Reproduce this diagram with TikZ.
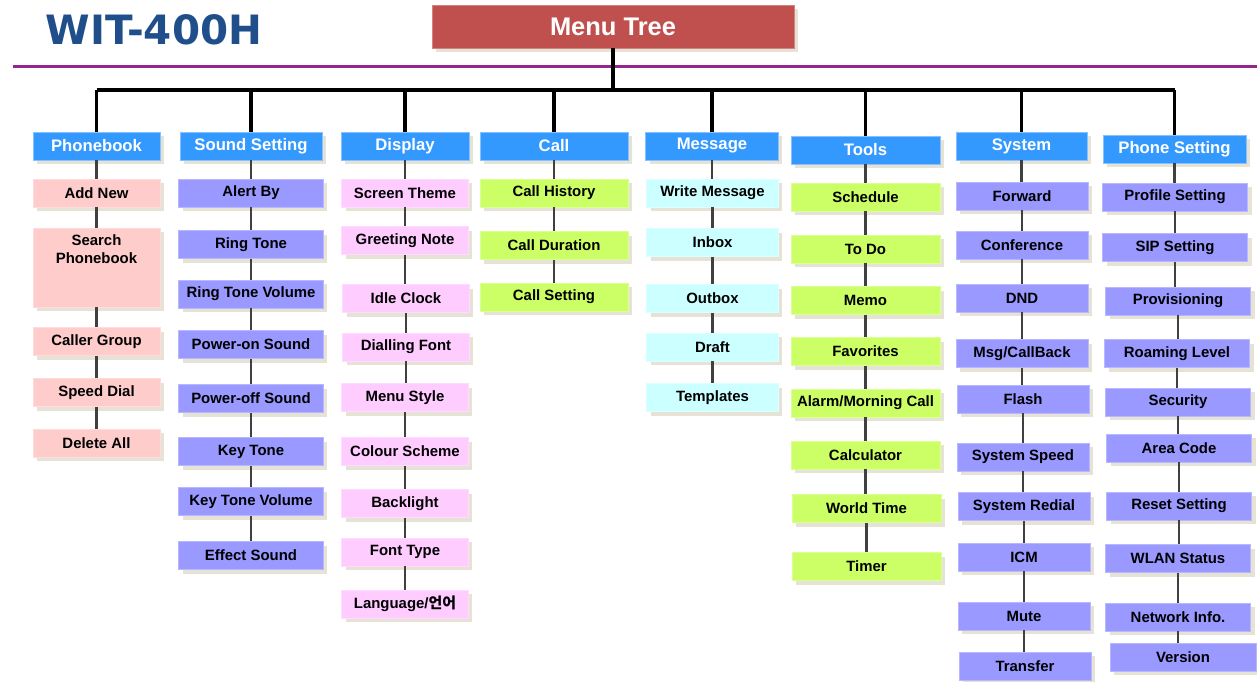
\documentclass[tikz,border=0pt]{standalone}
\usepackage{fontspec}
\setmainfont{Liberation Sans}
\newfontfamily\titlefont{DejaVu Sans}
\newfontfamily\kofont{Noto Sans CJK KR}
\usepackage{tikz}
\usetikzlibrary{positioning, shadows, calc}
\definecolor{headblue}{HTML}{3399FF}
\definecolor{titleblue}{HTML}{1F4E8A}
\definecolor{menured}{HTML}{C0504D}
\definecolor{rulepurple}{HTML}{93278F}
\definecolor{pinkc}{HTML}{FFCCCC}
\definecolor{lavc}{HTML}{9999FF}
\definecolor{magc}{HTML}{FFCCFF}
\definecolor{greenc}{HTML}{CCFF66}
\definecolor{cyanc}{HTML}{CCFFFF}
\definecolor{shadowc}{HTML}{E6E2D6}

\tikzset{
    shdw/.style={drop shadow={shadow xshift=0.08cm, shadow yshift=-0.08cm, fill=shadowc, opacity=1}},
    head/.style={rectangle, fill=headblue, draw=headblue!60!white, text=white, minimum height=0.56cm, inner sep=1pt, font=\fontsize{9.5}{11}\selectfont\bfseries, shdw},
    item/.style={rectangle, fill=#1, draw=#1!70!white, minimum height=0.56cm, inner sep=1pt, font=\fontsize{8.5}{10}\selectfont\bfseries, shdw},
    itemtext/.style={inner sep=1pt, font=\fontsize{8.5}{10}\selectfont\bfseries},
    link/.style={draw=black!75, line width=1.2pt},
    bus/.style={draw=black, line width=2pt},
}

\begin{document}
\begin{tikzpicture}[x=0.02cm, y=-0.02cm]
\useasboundingbox (0,0) rectangle (1257,681);

% title and rule
\node[font=\titlefont\fontsize{23}{27}\selectfont\bfseries, text=titleblue] (title) at (154,30) {WIT-400H};
\draw[rulepurple, line width=1.7pt] (13,66) -- (1257,66);
\node[rectangle, fill=menured, draw=menured!70!white, text=white, minimum width=7.24cm, minimum height=0.86cm, font=\fontsize{14.5}{16}\selectfont\bfseries, shdw] (menu) at (613,26.5) {Menu Tree};

% headers
\node[head, minimum width=2.54cm] (pb) at (96.5,146) {Phonebook};
\node[head, minimum width=2.84cm] (ss) at (251,146) {Sound Setting};
\node[head, minimum width=2.56cm] (dp) at (405,146) {Display};
\node[head, minimum width=2.96cm] (cl) at (554,146) {Call};
\node[head, minimum width=2.66cm] (ms) at (712,146) {Message};
\node[head, minimum width=2.98cm] (tl) at (865.5,150) {Tools};
\node[head, minimum width=2.62cm] (sy) at (1021.5,146) {System};
\node[head, minimum width=2.86cm] (ps) at (1174.5,149) {Phone Setting};

% phonebook
\node[item=pinkc, minimum width=2.54cm] (pbadd) at (96.5,193) {Add New};
\node[item=pinkc, minimum width=2.54cm, minimum height=1.58cm] (pbsearch) at (96.5,267.5) {};
\node[itemtext, align=center, anchor=north] (pbsearcht) at ([yshift=-0.1cm]pbsearch.north) {Search\\Phonebook};
\node[item=pinkc, minimum width=2.54cm] (pbgroup) at (96.5,341.5) {Caller Group};
\node[item=pinkc, minimum width=2.54cm] (pbspeed) at (96.5,392.5) {Speed Dial};
\node[item=pinkc, minimum width=2.54cm] (pbdel) at (96.5,443) {Delete All};

% sound setting
\node[item=lavc, minimum width=2.9cm] (ssalert) at (251,193) {Alert By};
\node[item=lavc, minimum width=2.9cm] (ssring) at (251,244.5) {Ring Tone};
\node[item=lavc, minimum width=2.9cm] (ssvol) at (251,294) {Ring Tone Volume};
\node[item=lavc, minimum width=2.9cm] (sson) at (251,344.5) {Power-on Sound};
\node[item=lavc, minimum width=2.9cm] (ssoff) at (251,398.5) {Power-off Sound};
\node[item=lavc, minimum width=2.9cm] (sskey) at (251,451.5) {Key Tone};
\node[item=lavc, minimum width=2.9cm] (sskeyvol) at (251,501.5) {Key Tone Volume};
\node[item=lavc, minimum width=2.9cm] (sseffect) at (251,555.5) {Effect Sound};

% display
\node[item=magc, minimum width=2.54cm] (dptheme) at (405,193) {Screen Theme};
\node[item=magc, minimum width=2.54cm] (dpgreet) at (405,240.5) {Greeting Note};
\node[item=magc, minimum width=2.54cm] (dpclock) at (406,298.5) {Idle Clock};
\node[item=magc, minimum width=2.54cm] (dpfont) at (406,347) {Dialling Font};
\node[item=magc, minimum width=2.54cm] (dpmenu) at (405,397.5) {Menu Style};
\node[item=magc, minimum width=2.54cm] (dpcolour) at (405,451.5) {Colour Scheme};
\node[item=magc, minimum width=2.54cm] (dplight) at (405,503.5) {Backlight};
\node[item=magc, minimum width=2.54cm] (dptype) at (405,552) {Font Type};
\node[item=magc, minimum width=2.54cm] (dplang) at (405,604) {Language/{\kofont 언어}};

% call
\node[item=greenc, minimum width=2.96cm] (clhist) at (554,193) {Call History};
\node[item=greenc, minimum width=2.96cm] (cldur) at (554,245.5) {Call Duration};
\node[item=greenc, minimum width=2.96cm] (clset) at (554,297) {Call Setting};

% message
\node[item=cyanc, minimum width=2.64cm] (mswrite) at (712.5,193) {Write Message};
\node[item=cyanc, minimum width=2.64cm] (msin) at (712.5,242.5) {Inbox};
\node[item=cyanc, minimum width=2.64cm] (msout) at (712.5,298.5) {Outbox};
\node[item=cyanc, minimum width=2.64cm] (msdraft) at (712.5,347) {Draft};
\node[item=cyanc, minimum width=2.64cm] (mstpl) at (712.5,397.5) {Templates};

% tools
\node[item=greenc, minimum width=2.98cm] (tlsched) at (865.5,197) {Schedule};
\node[item=greenc, minimum width=2.98cm] (tltodo) at (865.5,249) {To Do};
\node[item=greenc, minimum width=2.98cm] (tlmemo) at (865.5,300.5) {Memo};
\node[item=greenc, minimum width=2.98cm] (tlfav) at (865.5,351.5) {Favorites};
\node[item=greenc, minimum width=2.98cm] (tlalarm) at (865.5,403) {Alarm/Morning Call};
\node[item=greenc, minimum width=2.98cm] (tlcalc) at (865.5,455) {Calculator};
\node[item=greenc, minimum width=2.98cm] (tlworld) at (866.5,508.5) {World Time};
\node[item=greenc, minimum width=2.98cm] (tltimer) at (866.5,566.5) {Timer};

% system
\node[item=lavc, minimum width=2.64cm] (syfwd) at (1022,196) {Forward};
\node[item=lavc, minimum width=2.64cm] (syconf) at (1022,245) {Conference};
\node[item=lavc, minimum width=2.64cm] (sydnd) at (1022,298) {DND};
\node[item=lavc, minimum width=2.64cm] (symsg) at (1022,353.5) {Msg/CallBack};
\node[item=lavc, minimum width=2.64cm] (syflash) at (1023,399) {Flash};
\node[item=lavc, minimum width=2.64cm] (syspeed) at (1023,457) {System Speed};
\node[item=lavc, minimum width=2.64cm] (syredial) at (1024,506.5) {System Redial};
\node[item=lavc, minimum width=2.64cm] (syicm) at (1024,557) {ICM};
\node[item=lavc, minimum width=2.64cm] (symute) at (1024,616) {Mute};
\node[item=lavc, minimum width=2.64cm] (sytrans) at (1025,666) {Transfer};

% phone setting
\node[item=lavc, minimum width=2.9cm] (psprof) at (1175,197) {Profile Setting};
\node[item=lavc, minimum width=2.9cm] (pssip) at (1175,247.5) {SIP Setting};
\node[item=lavc, minimum width=2.9cm] (psprov) at (1178,301) {Provisioning};
\node[item=lavc, minimum width=2.9cm] (psroam) at (1177,353.5) {Roaming Level};
\node[item=lavc, minimum width=2.9cm] (pssec) at (1178,402) {Security};
\node[item=lavc, minimum width=2.9cm] (psarea) at (1179,448) {Area Code};
\node[item=lavc, minimum width=2.9cm] (psreset) at (1179,506) {Reset Setting};
\node[item=lavc, minimum width=2.9cm] (pswlan) at (1178,558.5) {WLAN Status};
\node[item=lavc, minimum width=2.9cm] (psnet) at (1178,617) {Network Info.};
\node[item=lavc, minimum width=2.92cm] (psver) at (1183,657) {Version};

% tree bus
\coordinate (bus) at (612,90);
\draw[bus] (menu) -- (menu |- bus);
\draw[bus] (pb |- bus) -- (ps |- bus);
\foreach \h in {pb, ss, dp, cl, ms, tl, sy, ps}
    \draw[bus] (\h |- bus) -- (\h);

% column links
\draw[link] (pb) -- (pb |- pbadd.north) (pbadd) -- (pbadd |- pbsearch.north)
    (pbsearch) -- (pbsearch |- pbgroup.north) (pbgroup) -- (pbgroup |- pbspeed.north)
    (pbspeed) -- (pbspeed |- pbdel.north);
\draw[link] (ss) -- (ss |- ssalert.north) (ssalert) -- (ssalert |- ssring.north)
    (ssring) -- (ssring |- ssvol.north) (ssvol) -- (ssvol |- sson.north)
    (sson) -- (sson |- ssoff.north) (ssoff) -- (ssoff |- sskey.north)
    (sskey) -- (sskey |- sskeyvol.north) (sskeyvol) -- (sskeyvol |- sseffect.north);
\draw[link] (dp) -- (dp |- dptheme.north) (dptheme) -- (dptheme |- dpgreet.north)
    (dpgreet) -- (dpgreet |- dpclock.north) (dpclock) -- (dpclock |- dpfont.north)
    (dpfont) -- (dpfont |- dpmenu.north) (dpmenu) -- (dpmenu |- dpcolour.north)
    (dpcolour) -- (dpcolour |- dplight.north) (dplight) -- (dplight |- dptype.north)
    (dptype) -- (dptype |- dplang.north);
\draw[link] (cl) -- (cl |- clhist.north) (clhist) -- (clhist |- cldur.north)
    (cldur) -- (cldur |- clset.north);
\draw[link] (ms) -- (ms |- mswrite.north) (mswrite) -- (mswrite |- msin.north)
    (msin) -- (msin |- msout.north) (msout) -- (msout |- msdraft.north)
    (msdraft) -- (msdraft |- mstpl.north);
\draw[link] (tl) -- (tl |- tlsched.north) (tlsched) -- (tlsched |- tltodo.north)
    (tltodo) -- (tltodo |- tlmemo.north) (tlmemo) -- (tlmemo |- tlfav.north)
    (tlfav) -- (tlfav |- tlalarm.north) (tlalarm) -- (tlalarm |- tlcalc.north)
    (tlcalc) -- (tlcalc |- tlworld.north) (tlworld) -- (tlworld |- tltimer.north);
\draw[link] (sy) -- (sy |- syfwd.north) (syfwd) -- (syfwd |- syconf.north)
    (syconf) -- (syconf |- sydnd.north) (sydnd) -- (sydnd |- symsg.north)
    (symsg) -- (symsg |- syflash.north) (syflash) -- (syflash |- syspeed.north)
    (syspeed) -- (syspeed |- syredial.north) (syredial) -- (syredial |- syicm.north)
    (syicm) -- (syicm |- symute.north) (symute) -- (symute |- sytrans.north);
\draw[link] (ps) -- (ps |- psprof.north) (psprof) -- (psprof |- pssip.north)
    (pssip) -- (pssip |- psprov.north) (psprov) -- (psprov |- psroam.north)
    (psroam) -- (psroam |- pssec.north) (pssec) -- (pssec |- psarea.north)
    (psarea) -- (psarea |- psreset.north) (psreset) -- (psreset |- pswlan.north)
    (pswlan) -- (pswlan |- psnet.north) (psnet) -- (psnet |- psver.north);

\end{tikzpicture}
\end{document}
